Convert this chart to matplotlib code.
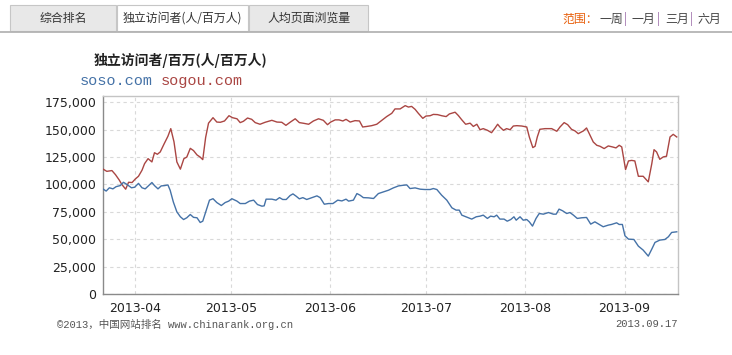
import matplotlib
matplotlib.use('Agg')
import matplotlib.pyplot as plt
import matplotlib.dates as mdates
import matplotlib.ticker as mticker
from matplotlib.patches import Rectangle
from matplotlib.lines import Line2D
import pandas as pd

# ---------------- data ----------------
start_date = '2013-03-22'

red_days = [0, 1.1, 2.7, 3.8, 5, 5.8, 7, 7.9, 9, 10, 11, 12.1, 12.9, 14, 15.2, 16, 16.9, 17.8, 19, 20.2,
            21.1, 22.1, 23, 24.1, 25.2, 26.1, 27.2, 28.2, 29.3, 30.3, 31.1, 32, 32.9, 34.3, 35.5, 36.6, 37.9,
            39.3, 40.4, 41.8, 42.8, 43.8, 45.1, 46.4, 47.5, 49, 50.6, 52.7, 54.3, 55.8, 57.1, 58.4, 60, 61.3,
            62.6, 64.2, 65.7, 67.3, 68.8, 70.1, 71.1, 72.5, 73.7, 74.9, 75.9, 77.2, 78.7, 80.1, 81.1, 82.4,
            83.9, 85.5, 87.1, 88.6, 90.2, 91.2, 92.8, 94.4, 95.4, 96.4, 97.5, 98.5, 99.9, 100.9, 102.2, 103.2,
            104.5, 105.8, 107.2, 108.2, 110, 111, 112.1, 113.3, 114.7, 115.7, 116.8, 117.8, 118.8, 120.1,
            121.4, 122.5, 123.3, 124, 125.1, 126.1, 127.2, 128.2, 129.3, 130.8, 132.4, 133.2, 134.3, 135,
            135.7, 136.5, 138.1, 140.2, 141.8, 142.8, 144.1, 145.2, 146.4, 147.5, 148.5, 150.1, 151.1, 152.2,
            153.2, 154.3, 155.3, 156.6, 157.9, 159.2, 160.3, 161.3, 162.1, 162.8, 163.3, 164.2, 165.2, 166.2,
            167.3, 168.8, 170.4, 171.5, 172.2, 173, 174, 175.1, 176.1, 177.2, 178.2, 179.3]
sogou = [113900, 112000, 112700, 109000, 104000, 100000, 95700, 102000, 101800, 105000, 107500, 113000,
         119000, 123600, 120600, 129000, 127600, 129700, 137000, 144000, 151000, 139000, 120600, 114000,
         123600, 125000, 133000, 131000, 127000, 125000, 122700, 143000, 156000, 161000, 157000, 156800,
         158000, 162800, 161000, 160000, 156500, 157700, 160700, 159500, 156500, 155000, 156800, 158600,
         157000, 156800, 154000, 156800, 160000, 156500, 155900, 155000, 158000, 160000, 158600, 154600,
         157000, 159000, 159000, 158000, 159500, 157000, 158300, 158000, 152500, 153000, 153700, 155000,
         158600, 162000, 165000, 169000, 169000, 172000, 170700, 171300, 168600, 165000, 160400, 162500,
         162800, 164000, 163800, 162800, 162000, 164400, 166000, 163000, 159000, 155000, 156000, 153000,
         155000, 150000, 151000, 149500, 147300, 151600, 155000, 152500, 149500, 151000, 150000, 153400,
         153700, 153400, 152500, 143400, 133700, 134900, 143400, 150400, 151000, 151000, 148600, 152500,
         156500, 154600, 150400, 148900, 146400, 148900, 151600, 144900, 138800, 135800, 134900, 132800,
         135200, 134300, 133400, 135800, 134300, 122000, 113600, 121500, 122000, 121500, 107500, 107500,
         102400, 119000, 131800, 129700, 123000, 125200, 125800, 143400, 145800, 143400]

blue_days = [0, 0.9, 1.9, 3, 4, 5.3, 6.3, 7.4, 8.8, 9.8, 11, 12.1, 13.1, 14.2, 15.2, 16, 17.1, 18.1, 19.2,
             20.2, 20.9, 21.9, 23, 24.1, 25.1, 26.1, 27.2, 28.2, 29.3, 30.3, 31.1, 32.2, 33.2, 34.3, 35.5,
             36.9, 38.1, 39.2, 40.2, 41.8, 42.8, 44.4, 45.7, 47, 48.2, 49.6, 50.3, 50.9, 52.7, 54, 55.1, 56.1,
             57.2, 58.4, 59.3, 60.3, 61.3, 62.4, 63.6, 65.2, 66.8, 67.8, 69.1, 70.4, 71.8, 73.3, 74.6, 75.9,
             76.7, 78.2, 79.3, 80.3, 81.3, 82.9, 84.5, 86, 87.6, 89.2, 90.7, 92.3, 93.8, 94.9, 95.9, 97.5,
             99.1, 100.6, 102.2, 103.2, 104.3, 105.8, 107.4, 109, 110.3, 111.3, 112.1, 113.4, 115.2, 116.6,
             117.8, 118.8, 120.1, 121.1, 122.2, 123, 124, 125.3, 126.3, 127.4, 128.4, 129.1, 130.3, 131.3,
             132.4, 133.2, 134.2, 135.3, 136.3, 137.6, 139.2, 140.7, 141.6, 142.5, 143.6, 144.9, 145.9, 147,
             148.2, 149.6, 151.1, 152.4, 153.7, 155.1, 156.3, 157.9, 158.9, 160.5, 161.3, 162.3, 163.1, 164.2,
             165.9, 167.3, 168.8, 170.4, 171.5, 172.5, 174, 175.6, 176.7, 177.7, 179.3]
soso = [95700, 94000, 97000, 96000, 98000, 99000, 102000, 100000, 97000, 97500, 101000, 97000, 96000, 99000,
        101800, 99000, 96000, 98700, 99000, 99600, 94800, 84000, 75000, 70500, 68000, 69600, 72600, 70000,
        69600, 65300, 66500, 76500, 85700, 87000, 83500, 80800, 83500, 84800, 87000, 84800, 82600, 82600,
        84800, 85700, 81700, 80200, 80500, 86600, 86600, 85700, 88000, 86300, 86300, 89900, 91400, 89300,
        86900, 88000, 86300, 88000, 89600, 88000, 82000, 82600, 82600, 85700, 85000, 86600, 84800, 85700,
        91700, 90200, 88000, 87800, 87200, 91700, 93300, 94800, 96900, 98700, 99300, 99600, 96300, 96900,
        95700, 95400, 95400, 96300, 95400, 90200, 85700, 78700, 76600, 76600, 72000, 70500, 68400, 70500,
        71100, 72000, 69000, 71100, 70500, 72000, 68400, 68400, 66500, 68000, 70500, 67400, 70500, 67400,
        68000, 65900, 62000, 69000, 73500, 72900, 74400, 72900, 72900, 77500, 76000, 73500, 74400, 72000,
        69000, 69600, 69900, 63800, 65900, 63500, 61400, 62900, 63500, 65000, 63500, 63500, 53200, 50100,
        49800, 43700, 40100, 34600, 41000, 47100, 49200, 49800, 52300, 56200, 56800]

y_ticks = [0, 25000, 50000, 75000, 100000, 125000, 150000, 175000]
tabs = ['综合排名', '独立访问者(人/百万人)', '人均页面浏览量']
ranges = ['一周', '一月', '三月', '六月']
title = '独立访问者/百万(人/百万人)'
series_names = ['soso.com', 'sogou.com']
footer_left = '©2013，中国网站排名 www.chinarank.org.cn'
footer_right = '2013.09.17'

# ---------------- figure ----------------
W, H = 732, 355
fig = plt.figure(figsize=(W / 100, H / 100), dpi=100)
fig.patch.set_facecolor('white')

def fx(x):
    return x / W

def fy(y):
    return 1 - y / H

CJK = ['Noto Sans CJK SC', 'DejaVu Sans']
BLUE = '#4572A7'
RED = '#AA4643'

# tab bar
tab_boxes = [(10, 116, '#e8e8e8'), (117, 248, '#ffffff'), (249, 368, '#e8e8e8')]
for (x0, x1, fc), label in zip(tab_boxes, tabs):
    fig.patches.append(Rectangle((fx(x0), fy(31)), fx(x1) - fx(x0), fy(5) - fy(31),
                                 transform=fig.transFigure, facecolor=fc, edgecolor='#c6c6c6',
                                 linewidth=0.8))
    fig.text(fx((x0 + x1) / 2), fy(18.5), label, ha='center', va='center', fontsize=8.6,
             color='#333333', family=CJK)
fig.add_artist(Line2D([0, 1], [fy(31.5), fy(31.5)], transform=fig.transFigure,
                      color='#b4b4b4', linewidth=1.3))

# range selector
fig.text(fx(562), fy(19), '范围：', ha='left', va='center', fontsize=8.6, color='#e8600c', family=CJK)
rx = 599
for i, r in enumerate(ranges):
    fig.text(fx(rx), fy(19), r, ha='left', va='center', fontsize=8.6, color='#444444', family=CJK)
    rx += 25
    if i < len(ranges) - 1:
        fig.text(fx(rx + 1), fy(19), '|', ha='center', va='center', fontsize=8.6, color='#9a6aa8',
                 family=CJK)
        rx += 8

# title and legend texts
fig.text(fx(181), fy(60), title, ha='center', va='center', fontsize=10, fontweight='bold',
         color='#222222', family=CJK)
fig.text(fx(80), fy(81), series_names[0], ha='left', va='center', fontsize=11, color=BLUE,
         family='Liberation Mono')
fig.text(fx(161), fy(81), series_names[1], ha='left', va='center', fontsize=11, color=RED,
         family='Liberation Mono')

# ---------------- axes ----------------
ax_l, ax_r, ax_t, ax_b = 103.3, 677.7, 96, 294
ax = fig.add_axes([fx(ax_l), fy(ax_b), fx(ax_r) - fx(ax_l), fy(ax_t) - fy(ax_b)])

base = pd.Timestamp(start_date)
red_x = base + pd.to_timedelta(red_days, unit='D')
blue_x = base + pd.to_timedelta(blue_days, unit='D')

ax.plot(red_x, sogou, color=RED, linewidth=1.0, zorder=3)
ax.plot(blue_x, soso, color=BLUE, linewidth=1.0, zorder=3)

ax.set_xlim(base, base + pd.Timedelta(days=179.6))
ax.set_ylim(0, 180800)
ax.set_yticks(y_ticks)
ax.yaxis.set_major_formatter(mticker.FuncFormatter(lambda v, p: f'{v:,.0f}'))
ax.xaxis.set_major_locator(mdates.MonthLocator())
ax.xaxis.set_major_formatter(mdates.DateFormatter('%Y-%m'))

ax.grid(True, which='major', color='#d9d9d9', linestyle=(0, (3, 3)), linewidth=0.8, zorder=0)
ax.tick_params(axis='both', length=0, labelsize=9, colors='#222222')
ax.tick_params(axis='y', pad=5)
ax.tick_params(axis='x', pad=6)
for lab in ax.get_xticklabels() + ax.get_yticklabels():
    lab.set_family('DejaVu Sans')

for side in ['left', 'bottom']:
    ax.spines[side].set_color('#8a8a8a')
    ax.spines[side].set_linewidth(1.0)
for side in ['top', 'right']:
    ax.spines[side].set_color('#c4c4c4')
    ax.spines[side].set_linewidth(1.0)

# footer
fig.text(fx(57), fy(324), footer_left, ha='left', va='center', fontsize=7.6, color='#555555',
         family=['Liberation Mono', 'Noto Sans CJK SC'])
fig.text(fx(678), fy(324), footer_right, ha='right', va='center', fontsize=7.6, color='#555555',
         family='Liberation Mono')

fig.savefig('out.png', dpi=100, facecolor='white')
